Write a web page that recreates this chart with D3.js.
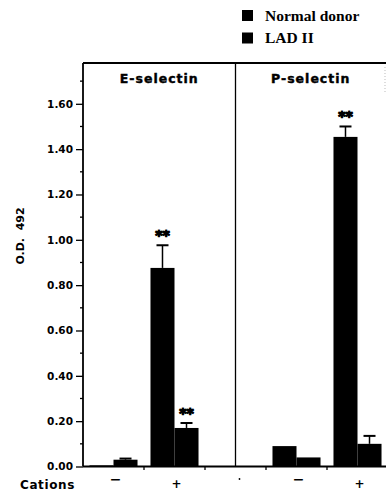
<!DOCTYPE html>
<html>
<head>
  <meta charset="utf-8">
  <script src="https://d3js.org/d3.v7.min.js"></script>
  <style>
    body { margin: 0; background: #fff; }
    text { font-family: "DejaVu Sans", sans-serif; font-weight: bold; fill: #000; }
  </style>
</head>
<body>
  <svg id="chart" width="386" height="492"></svg>
  <script>
    // --- data
    const slots = ['E-', 'E+', 'gap', 'P-', 'P+'];
    const panels = ['E-selectin', 'P-selectin'];
    const cationLabels = ['\u2212', '+', '', '\u2212', '+'];
    const series = ['Normal donor', 'LAD II'];
    const normalVals = [0.005, 0.876, null, 0.09, 1.454];
    const ladVals = [0.03, 0.17, null, 0.04, 0.10];
    const normalErr = [0, 0.10, null, 0, 0.046];
    const ladErr = [0.005, 0.022, null, 0, 0.035];
    const normalStars = [false, true, null, false, true];
    const ladStars = [false, true, null, false, false];
    const yTicks = [0, 0.2, 0.4, 0.6, 0.8, 1.0, 1.2, 1.4, 1.6];

    const svg = d3.select('svg#chart');
    const mLeft = 83, mTop = 63, mRight = 388, mBottom = 466.5;

    const x = d3.scaleBand().domain(slots).range([mLeft, mRight]);
    const xi = d3.scaleBand().domain(series).range([0, x.bandwidth()]).paddingOuter(0.27);
    const y = d3.scaleLinear().domain([0, 1.78]).range([mBottom, mTop]);

    // bars
    const bars = [];
    slots.forEach((s, i) => {
      if (normalVals[i] === null) return;
      bars.push({ slot: s, ser: series[0], v: normalVals[i], e: normalErr[i], star: normalStars[i] });
      bars.push({ slot: s, ser: series[1], v: ladVals[i], e: ladErr[i], star: ladStars[i] });
    });

    const g = svg.append('g');
    bars.forEach(d => {
      const bx = x(d.slot) + xi(d.ser);
      const cx = bx + xi.bandwidth() / 2;
      g.append('rect')
        .attr('x', bx).attr('width', xi.bandwidth())
        .attr('y', y(d.v)).attr('height', y(0) - y(d.v))
        .attr('fill', '#000');
      if (d.e > 0) {
        g.append('line').attr('x1', cx).attr('x2', cx)
          .attr('y1', y(d.v)).attr('y2', y(d.v + d.e))
          .attr('stroke', '#000').attr('stroke-width', 1.5);
        g.append('line').attr('x1', cx - 6).attr('x2', cx + 6)
          .attr('y1', y(d.v + d.e)).attr('y2', y(d.v + d.e))
          .attr('stroke', '#000').attr('stroke-width', 2);
      }
      if (d.star) {
        // stars print as heavy blobs in the scan
        g.append('text').attr('x', cx).attr('y', y(d.v + d.e) - 5)
          .attr('text-anchor', 'middle').style('font-size', '14px')
          .style('letter-spacing', '0px')
          .attr('stroke', '#000').attr('stroke-width', 1.2).attr('stroke-linejoin', 'round')
          .text('**');
      }
    });

    // left axis with minor ticks
    const yAxis = d3.axisLeft(y).tickValues(yTicks).tickFormat(d3.format('.2f')).tickSize(7).tickPadding(3);
    const ya = svg.append('g').attr('transform', `translate(${mLeft},0)`).call(yAxis);
    ya.select('.domain').remove();
    ya.selectAll('line').attr('stroke-width', 1.3);
    ya.selectAll('text').style('font-size', '10.5px').style('font-family', '"DejaVu Sans", sans-serif');

    const minor = d3.range(0.1, 1.75, 0.2);
    svg.append('g').selectAll('line').data(minor).join('line')
      .attr('x1', mLeft - 3).attr('x2', mLeft)
      .attr('y1', d => y(d)).attr('y2', d => y(d))
      .attr('stroke', '#000').attr('stroke-width', 1.3);

    // frame: left axis, top line, baseline, panel divider
    svg.append('line').attr('x1', mLeft).attr('x2', mLeft).attr('y1', mTop).attr('y2', mBottom)
      .attr('stroke', '#000').attr('stroke-width', 1.8);
    svg.append('line').attr('x1', mLeft).attr('x2', 386).attr('y1', mTop).attr('y2', mTop)
      .attr('stroke', '#000').attr('stroke-width', 1.8);
    svg.append('line').attr('x1', mLeft).attr('x2', 386).attr('y1', mBottom).attr('y2', mBottom)
      .attr('stroke', '#000').attr('stroke-width', 1.8);
    const divX = x('gap') + x.bandwidth() / 2;
    svg.append('line').attr('x1', divX).attr('x2', divX).attr('y1', mTop).attr('y2', mBottom)
      .attr('stroke', '#000').attr('stroke-width', 1.3);
    svg.append('line').attr('x1', 385).attr('x2', 385).attr('y1', mTop + 4).attr('y2', mTop + 30)
      .attr('stroke', '#bbb').attr('stroke-width', 1).attr('stroke-dasharray', '1,2');

    // bottom ticks at slot boundaries
    svg.append('g').selectAll('line').data(slots.slice(1)).join('line')
      .attr('x1', d => x(d)).attr('x2', d => x(d))
      .attr('y1', mBottom).attr('y2', mBottom + 3.5)
      .attr('stroke', '#000').attr('stroke-width', 1.3);

    // panel titles
    panels.forEach((p, i) => {
      const cx = i === 0 ? (mLeft + divX) / 2 : (divX + 386) / 2;
      svg.append('text').attr('x', cx).attr('y', 83)
        .attr('text-anchor', 'middle').style('font-size', '12.5px')
        .style('letter-spacing', '1px')
        .attr('stroke', '#000').attr('stroke-width', 0.4)
        .text(p);
    });

    // cation labels
    slots.forEach((s, i) => {
      if (!cationLabels[i]) return;
      const isMinus = cationLabels[i] !== '+';
      svg.append('text').attr('x', x(s) + x.bandwidth() / 2 + 2)
        .attr('y', isMinus ? 484 : 488)
        .attr('text-anchor', 'middle').style('font-size', isMinus ? '14px' : '12px')
        .text(cationLabels[i]);
    });
    svg.append('circle').attr('cx', divX + 4).attr('cy', 479).attr('r', 0.9).attr('fill', '#000');
    svg.append('text').attr('x', 20).attr('y', 489).style('font-size', '12px')
      .style('letter-spacing', '0.6px').text('Cations');

    // y label
    svg.append('text').attr('transform', 'translate(24,236) rotate(-90)')
      .attr('text-anchor', 'middle').style('font-size', '11px')
      .style('white-space', 'pre').text('O.D.  492');

    // legend
    const leg = svg.append('g');
    series.forEach((s, i) => {
      leg.append('rect').attr('x', 242).attr('y', 10 + i * 22.5).attr('width', 11).attr('height', 11)
        .attr('fill', '#000');
      leg.append('text').attr('x', 265).attr('y', 21 + i * 22)
        .style('font-family', '"Liberation Serif", "Times New Roman", serif')
        .style('font-size', '15.5px').text(s);
    });
  </script>
</body>
</html>
